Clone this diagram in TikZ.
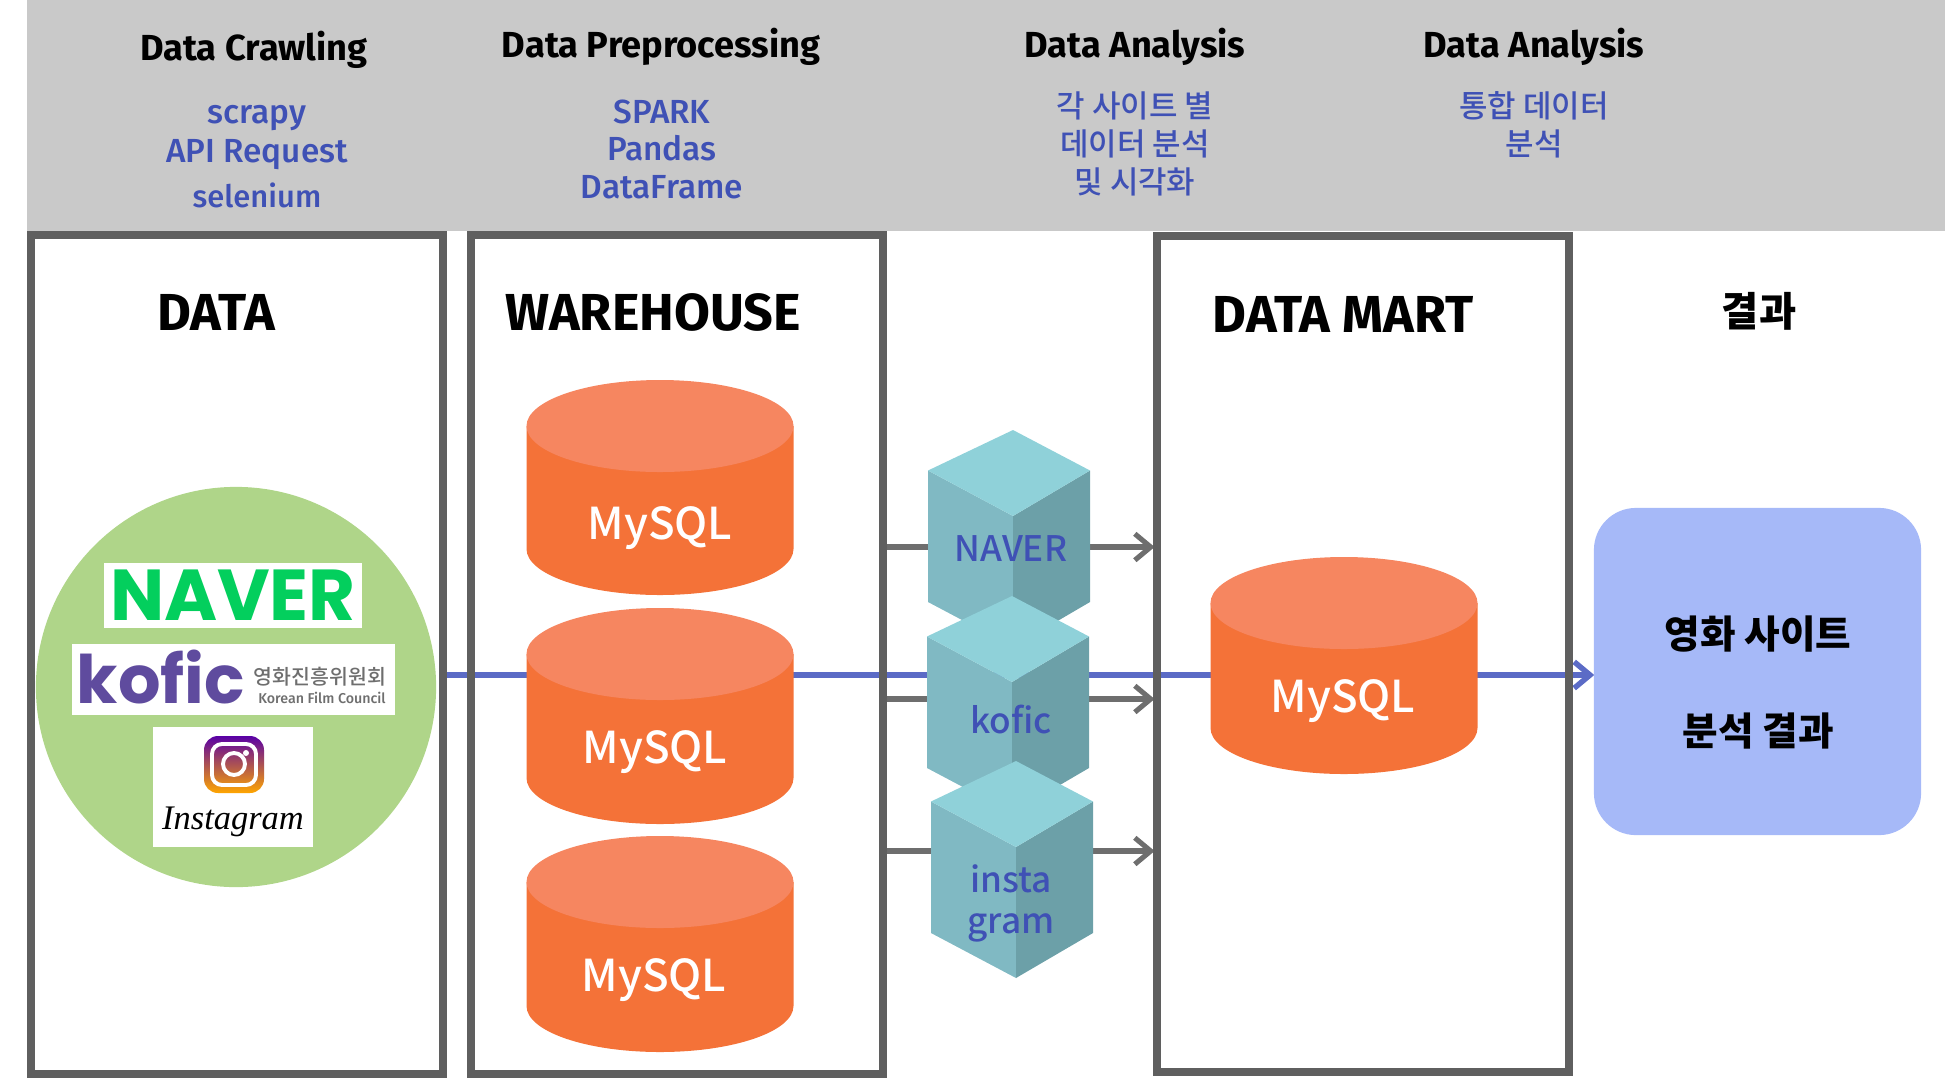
\documentclass[tikz,border=0pt]{standalone}
\usepackage{fontspec}
\setmainfont{Fira Sans}
\newfontfamily\firamed{Fira Sans Medium}
\newfontfamily\krfont{Noto Sans CJK KR}
\newfontfamily\krmed{Noto Sans CJK KR Medium}
\newfontfamily\logofont{Poppins}
\newfontfamily\wordfont{Liberation Serif}
\usetikzlibrary{positioning}
\usetikzlibrary{arrows.meta}
\usetikzlibrary{backgrounds}

\definecolor{bandgray}{HTML}{C9C9C9}
\definecolor{framegray}{HTML}{5F5F5F}
\definecolor{flowgray}{HTML}{6E6E6E}
\definecolor{toolblue}{HTML}{3F51B5}
\definecolor{flowblue}{HTML}{5B6BC6}
\definecolor{dbside}{HTML}{F47238}
\definecolor{dbtop}{HTML}{F68660}
\definecolor{cubetop}{HTML}{8FD1D9}
\definecolor{cubeleft}{HTML}{80B9C3}
\definecolor{cuberight}{HTML}{6CA0A8}
\definecolor{sitegreen}{HTML}{AFD589}
\definecolor{navergreen}{HTML}{03CF5D}
\definecolor{koficpurple}{HTML}{5F4B9E}
\definecolor{resultblue}{HTML}{A6B9F8}

\tikzset{
	stagebox/.style={draw=framegray,line width=0.08cm,minimum width=4.12cm,inner sep=0pt},
	stepname/.style={anchor=base,inner sep=0pt,font=\bfseries\fontsize{10.3}{11}\selectfont},
	toolname/.style={anchor=base,inner sep=0pt,text=toolblue,font=\firamed\fontsize{9.5}{11}\selectfont},
	tooltext/.style={text=toolblue,font=\krmed\fontsize{8.8}{11}\selectfont},
	stagename/.style={anchor=base,inner sep=0pt,font=\bfseries\fontsize{14.8}{17}\selectfont},
	krname/.style={font=\krfont\bfseries\fontsize{11}{15}\selectfont},
	dbname/.style={text=white,font=\krmed\fontsize{12.5}{15}\selectfont},
	cubename/.style={anchor=base,inner sep=0pt,text=toolblue,font=\krmed\fontsize{10}{12}\selectfont},
	logobox/.style={fill=white,inner sep=0pt},
	flowgrayline/.style={draw=flowgray,line width=1.45pt,shorten >=-0.5pt,-{Straight Barb[length=4.5pt,width=7.5pt]}},
	flowblueline/.style={draw=flowblue,line width=1.55pt,shorten >=-0.3pt,-{Straight Barb[length=4.5pt,width=7.5pt]}},
}

% x y z: centre of the upper ellipse, bottom of the side
\newcommand{\dbcyl}[3]{
	\fill[dbside] (#1-133.5,#2) -- (#1-133.5,#3) arc[start angle=180,end angle=360,x radius=133.5,y radius=-46] -- (#1+133.5,#2) -- cycle;
	\fill[dbtop] (#1,#2) ellipse[x radius=133.5,y radius=46];
}
% x y: top corner
\newcommand{\datacube}[2]{
	\fill[cubeleft] (#1-85,#2+40.5) -- (#1,#2+86) -- (#1,#2+217) -- (#1-85,#2+172) -- cycle;
	\fill[cuberight] (#1+77,#2+40.5) -- (#1,#2+86) -- (#1,#2+217) -- (#1+77,#2+172) -- cycle;
	\fill[cubetop] (#1,#2) -- (#1+77,#2+40.5) -- (#1,#2+86) -- (#1-85,#2+40.5) -- cycle;
}

\begin{document}
\begin{tikzpicture}[x=0.01cm,y=-0.01cm]
	\useasboundingbox (0,0) rectangle (1945,1078);
	
	\fill[bandgray] (27,0) rectangle (1945,231);
	
	\node[stepname] (stepA) at (254,60) {Data Crawling};
	\node[toolname] (toolA1) at (257,123) {scrapy};
	\node[toolname] (toolA2) at (257,162) {API Request};
	\node[toolname,font=\firamed\fontsize{8.8}{11}\selectfont] (toolA3) at (257,207) {selenium};
	
	\node[stepname] (stepB) at (661,57) {Data Preprocessing};
	\node[toolname] (toolB1) at (662,123) {SPARK};
	\node[toolname] (toolB2) at (662,160) {Pandas};
	\node[toolname] (toolB3) at (662,198) {DataFrame};
	
	\node[stepname] (stepC) at (1135,57) {Data Analysis};
	\node[tooltext] (toolC1) at (1135,106) {각 사이트 별};
	\node[tooltext] (toolC2) at (1135,144) {데이터 분석};
	\node[tooltext] (toolC3) at (1135,182) {및 시각화};
	
	\node[stepname] (stepD) at (1534,57) {Data Analysis};
	\node[tooltext] (toolD1) at (1534,106) {통합 데이터};
	\node[tooltext] (toolD2) at (1534,144) {분석};
	
	\node[stagebox,minimum height=8.39cm] (data) at (237,654.5) {};
	\node[stagebox,minimum height=8.39cm] (warehouse) at (677,654.5) {};
	\node[stagebox,minimum height=8.36cm] (mart) at (1363,654) {};
	\node[minimum width=3.27cm,minimum height=3.27cm,rounded corners=0.42cm,fill=resultblue] (result) at (1757.5,671.5) {};
	
	\coordinate (blueY) at (0,675);
	\coordinate (naverY) at (0,547);
	\coordinate (koficY) at (0,699);
	\coordinate (instaY) at (0,851);
	
	\begin{scope}[on background layer]
		\draw[flowblueline] (data.east |- blueY) -- (result.west |- blueY);
		\draw[flowgrayline] (warehouse.east |- naverY) -- (mart.west |- naverY);
		\draw[flowgrayline] (warehouse.east |- koficY) -- (mart.west |- koficY);
		\draw[flowgrayline] (warehouse.east |- instaY) -- (mart.west |- instaY);
	\end{scope}
	
	\node[krname] (resultA) at (1758,634) {영화 사이트};
	\node[krname] (resultB) at (1758,731) {분석 결과};
	
	\node[stagename] (dataName) at (216,330) {DATA};
	\node[stagename] (warehouseName) at (653,330) {WAREHOUSE};
	\node[stagename] (martName) at (1343,332) {DATA MART};
	\node[krname,font=\krfont\bfseries\fontsize{11.5}{15}\selectfont] (resultName) at (1759,311) {결과};
	
	% sites
	\node[circle,fill=sitegreen,minimum size=4cm,inner sep=0pt] (sites) at (236,687) {};
	\node[logobox,minimum width=2.58cm,minimum height=0.65cm,text=navergreen,font=\logofont\bfseries\fontsize{20.5}{21}\selectfont] (naverLogo) at (233,595.5) {NAVER};
	\node[logobox,minimum width=3.23cm,minimum height=0.71cm] (koficLogo) at (233.5,679.5) {};
	\node[anchor=base,text=koficpurple,font=\logofont\bfseries\fontsize{19}{20}\selectfont,inner sep=0pt] (koficWord) at (161,703) {kofic};
	\node[text=flowgray,font=\krmed\fontsize{5.85}{6}\selectfont,inner sep=0pt] (koficKr) at (320,677) {영화진흥위원회};
	\node[anchor=base,text=flowgray,font=\firamed\fontsize{4.05}{4.5}\selectfont,inner sep=0pt] (koficEn) at (322,703) {Korean Film Council};
	\node[logobox,minimum width=1.6cm,minimum height=1.2cm] (instaLogo) at (233,787) {};
	\shade[rounded corners=0.14cm,top color=violet!70!blue,middle color=magenta!80!red,bottom color=orange!70!yellow] (204,736) rectangle (264,793);
	\draw[white,line width=1.1pt,rounded corners=0.1cm] (212,744) rectangle (256,785);
	\draw[white,line width=1.1pt] (234,764) circle (11);
	\fill[white] (246,753) circle (3);
	\node[anchor=base,font=\wordfont\itshape\fontsize{9.8}{12}\selectfont,inner sep=0pt] (instaWord) at (233,829) {Instagram};
	
	% warehouse
	\dbcyl{660}{426}{549}
	\dbcyl{660}{654}{778}
	\dbcyl{660}{882}{1006}
	\node[dbname] (dbA) at (660,528) {MySQL};
	\node[dbname] (dbB) at (655,752) {MySQL};
	\node[dbname] (dbC) at (654,980) {MySQL};
	
	% cubes
	\datacube{1013}{430}
	\datacube{1012}{596}
	\datacube{1016}{761}
	\node[cubename] (cubeA) at (1011,561) {NAVER};
	\node[cubename] (cubeB) at (1011,733) {kofic};
	\node[cubename] (cubeC1) at (1011,892) {insta};
	\node[cubename] (cubeC2) at (1011,933) {gram};
	
	% mart
	\dbcyl{1344}{603}{728}
	\node[dbname] (dbD) at (1343,701) {MySQL};
	
\end{tikzpicture}
\end{document}
